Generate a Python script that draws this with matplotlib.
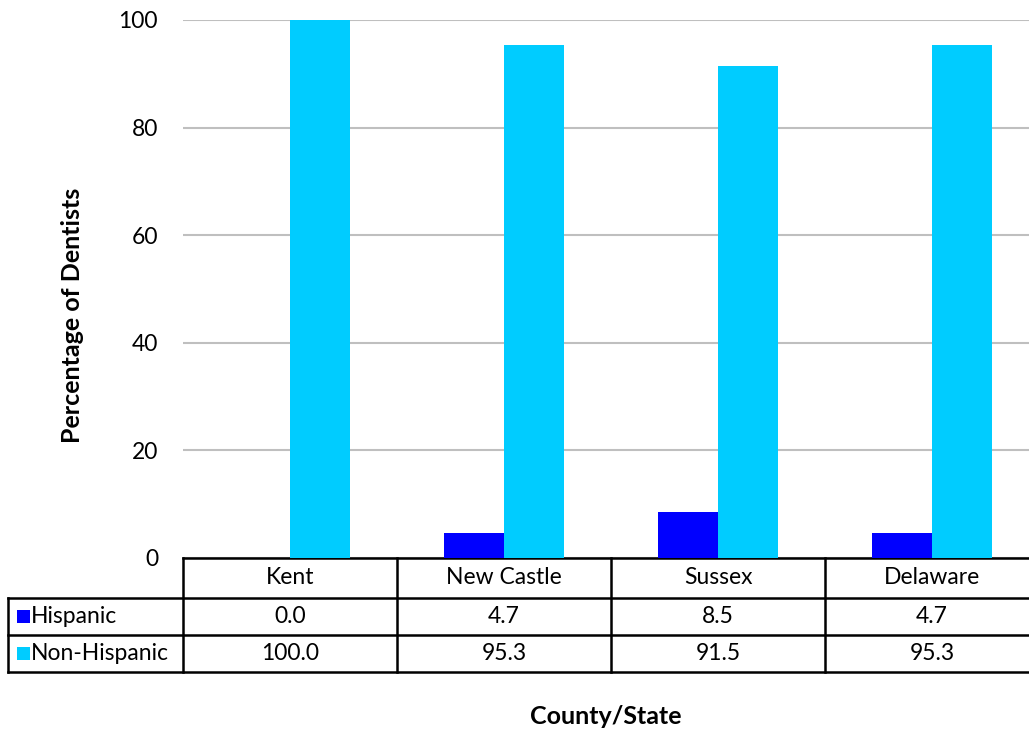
import matplotlib
matplotlib.use("Agg")
import matplotlib.pyplot as plt
from matplotlib.transforms import blended_transform_factory
from matplotlib.patches import Rectangle

plt.rcParams['font.family'] = ['Lato', 'DejaVu Sans']

counties = ["Kent", "New Castle", "Sussex", "Delaware"]
hispanic = [0.0, 4.7, 8.5, 4.7]
non_hispanic = [100.0, 95.3, 91.5, 95.3]
series_names = ["Hispanic", "Non-Hispanic"]
series_colors = ["#0000FF", "#00CCFF"]
y_ticks = [0, 20, 40, 60, 80, 100]

W, H = 1029, 729
fig = plt.figure(figsize=(W / 100, H / 100), dpi=100)
# axes spans 4 columns of 214 px, starting at x=183 px; plot area y 20..558 px
ax = fig.add_axes([183 / W, (H - 558) / H, 856 / W, 538 / H])

x = list(range(len(counties)))
bw = 0.28
ax.bar([i - bw / 2 for i in x], hispanic, width=bw, color=series_colors[0], zorder=3)
ax.bar([i + bw / 2 for i in x], non_hispanic, width=bw, color=series_colors[1], zorder=3)

fs = 16.5
ax.set_xlim(-0.5, 3.5)
ax.set_ylim(0, 100)
ax.set_yticks(y_ticks)
ax.set_yticklabels([str(t) for t in y_ticks], fontsize=fs)
ax.tick_params(axis='y', length=0, pad=18)
ax.set_xticks([])
ax.grid(axis='y', color='#BFBFBF', linewidth=1.5, zorder=0)
for s in ax.spines.values():
    s.set_visible(False)

fig.text(72 / W, 1 - 315 / H, "Percentage of Dentists", rotation=90,
         ha='center', va='center', fontsize=18, fontweight='bold')

# data table under the plot
tr = blended_transform_factory(ax.transData, ax.transAxes)
ph = 538.0
def yax(px_below):
    return -px_below / ph

left_col = -0.5 - 175 / 214
right_end = 3.5
row_edges = [0, 40, 77, 114]
lw = 1.8
kw = dict(transform=tr, color='black', linewidth=lw, clip_on=False, solid_capstyle='projecting')

ax.plot([-0.5, right_end], [yax(0), yax(0)], **kw)
for r in row_edges[1:]:
    ax.plot([left_col, right_end], [yax(r), yax(r)], **kw)
for c in [-0.5, 0.5, 1.5, 2.5]:
    ax.plot([c, c], [yax(0), yax(114)], **kw)
ax.plot([left_col, left_col], [yax(40), yax(114)], **kw)

for i, name in enumerate(counties):
    ax.text(i, yax(20), name, transform=tr, ha='center', va='center', fontsize=fs, clip_on=False)
rows = [hispanic, non_hispanic]
for r, vals in enumerate(rows):
    yc = yax((row_edges[r + 1] + row_edges[r + 2]) / 2)
    for i, v in enumerate(vals):
        ax.text(i, yc, f"{v:.1f}", transform=tr, ha='center', va='center', fontsize=fs, clip_on=False)
    # legend key and series name
    kx = left_col + 9 / 214
    sq = 13 / 214
    sqh = 13 / ph
    ax.add_patch(Rectangle((kx, yc - sqh / 2), sq, sqh, transform=tr,
                           facecolor=series_colors[r], edgecolor='none', clip_on=False))
    ax.text(kx + sq + 1 / 214, yc, series_names[r], transform=tr, ha='left', va='center',
            fontsize=fs, clip_on=False)

fig.text(606 / W, 1 - 716 / H, "County/State", ha='center', va='center',
         fontsize=18, fontweight='bold')

fig.savefig("out.png", dpi=100)
